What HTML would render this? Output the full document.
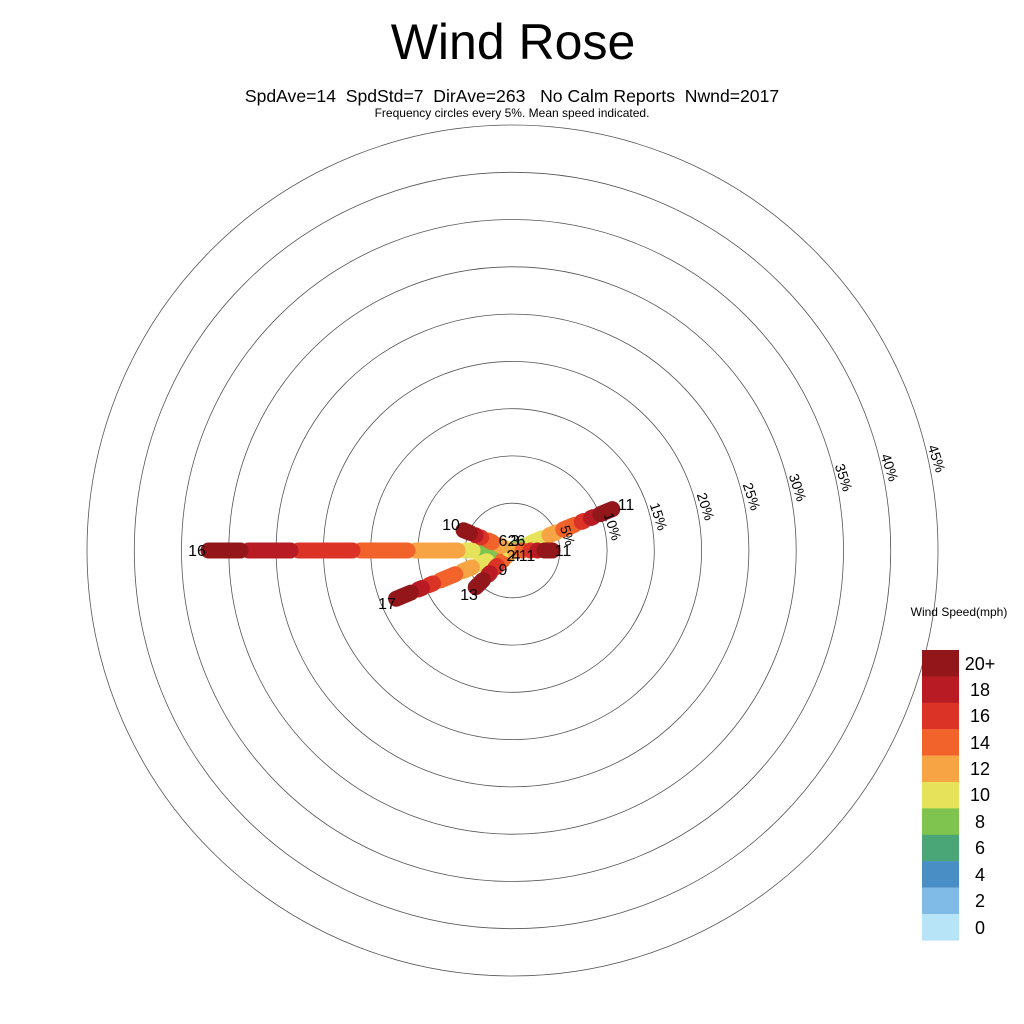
<!DOCTYPE html>
<html><head><meta charset="utf-8"><style>
html,body{margin:0;padding:0;background:#fff;}
svg{display:block;font-family:"Liberation Sans",Arial,sans-serif;}
</style></head><body>
<svg id="s" width="1024" height="1024" viewBox="0 0 1024 1024" xmlns="http://www.w3.org/2000/svg">
<rect width="1024" height="1024" fill="#fff"/>
<text x="513" y="59" font-size="50" text-anchor="middle">Wind Rose</text>
<text x="512" y="102" font-size="17.6" text-anchor="middle" xml:space="preserve">SpdAve=14  SpdStd=7  DirAve=263   No Calm Reports  Nwnd=2017</text>
<text x="512" y="117" font-size="12" text-anchor="middle">Frequency circles every 5%. Mean speed indicated.</text>
<g fill="none" stroke="#555" stroke-width="0.8">
<circle cx="512.5" cy="550.5" r="47.3"/><circle cx="512.5" cy="550.5" r="94.6"/><circle cx="512.5" cy="550.5" r="141.8"/>
<circle cx="512.5" cy="550.5" r="189.1"/><circle cx="512.5" cy="550.5" r="236.4"/><circle cx="512.5" cy="550.5" r="283.7"/>
<circle cx="512.5" cy="550.5" r="331"/><circle cx="512.5" cy="550.5" r="378.2"/><circle cx="512.5" cy="550.5" r="425.5"/>
</g>
<g id="spokes" stroke-linecap="round" stroke-width="16" fill="none"></g>
<g font-size="14" text-anchor="middle">
<text transform="translate(563,537) rotate(72)">5%</text>
<text transform="translate(608,528) rotate(72)">10%</text>
<text transform="translate(654,518) rotate(72)">15%</text>
<text transform="translate(701,508) rotate(72)">20%</text>
<text transform="translate(747,498) rotate(72)">25%</text>
<text transform="translate(793,489) rotate(72)">30%</text>
<text transform="translate(839,479) rotate(72)">35%</text>
<text transform="translate(885,469) rotate(72)">40%</text>
<text transform="translate(932,460) rotate(72)">45%</text>
</g>
<g font-size="16" text-anchor="middle">
<text x="197" y="556">16</text>
<text x="387" y="609">17</text>
<text x="469" y="600">13</text>
<text x="451" y="530">10</text>
<text x="626" y="510">11</text>
<text x="563" y="556">11</text>
<text x="503" y="575">9</text>
<text x="503" y="546">6</text>
<text x="512" y="546">2</text>
<text x="515" y="546">3</text>
<text x="521" y="546">6</text>
<text x="511" y="561">2</text>
<text x="516" y="561">4</text>
<text x="527" y="561">11</text>
</g>
<text x="959" y="616" font-size="12" text-anchor="middle">Wind Speed(mph)</text>
<g id="legend"></g>
<g font-size="18" text-anchor="middle">
<text x="980" y="670">20+</text><text x="980" y="696">18</text><text x="980" y="722">16</text>
<text x="980" y="749">14</text><text x="980" y="775">12</text><text x="980" y="801">10</text>
<text x="980" y="828">8</text><text x="980" y="854">6</text><text x="980" y="881">4</text>
<text x="980" y="907">2</text><text x="980" y="934">0</text>
</g>
<script>
var C={20:"#93161b",18:"#b91b24",16:"#dc3327",14:"#f1632a",12:"#f7a544",10:"#e6e25a",8:"#7ec44f",6:"#4aa676",4:"#4a8ec6",2:"#7fbbe6",0:"#b8e4f8"};
var cx=512.5,cy=550.5,ns="http://www.w3.org/2000/svg";
var g=document.getElementById("spokes");
function spoke(deg,pts){var a=deg*Math.PI/180,dx=Math.sin(a),dy=-Math.cos(a);
 var prev=2;
 pts.forEach(function(s){var e=Math.max(prev,s[0]-8);var l=document.createElementNS(ns,"line");
 l.setAttribute("x1",cx+dx*prev);l.setAttribute("y1",cy+dy*prev);
 l.setAttribute("x2",cx+dx*e);l.setAttribute("y2",cy+dy*e);
 l.setAttribute("stroke",C[s[1]]);g.appendChild(l);prev=s[0];});}
spoke(270,[[10,4],[22,6],[40,8],[55,10],[105,12],[160,14],[222,16],[272,18],[312,20]]);
spoke(247.5,[[14,6],[28,8],[44,10],[62,12],[86,14],[98,16],[110,18],[134,20]]);
spoke(225,[[8,10],[14,12],[22,14],[32,16],[42,18],[60,20]]);
spoke(292.5,[[12,10],[22,12],[34,14],[40,16],[46,18],[61,20]]);
spoke(67.5,[[20,8],[40,10],[55,12],[75,14],[85,16],[95,18],[116,20]]);
spoke(90,[[10,12],[18,14],[25,16],[32,18],[48,20]]);
var lg=document.getElementById("legend"),keys=[20,18,16,14,12,10,8,6,4,2,0];
keys.forEach(function(k,i){var r=document.createElementNS(ns,"rect");
 r.setAttribute("x",922);r.setAttribute("y",650+i*26.4);r.setAttribute("width",37);r.setAttribute("height",26.6);
 r.setAttribute("fill",C[k]);lg.appendChild(r);});
</script>
</svg>
</body></html>
